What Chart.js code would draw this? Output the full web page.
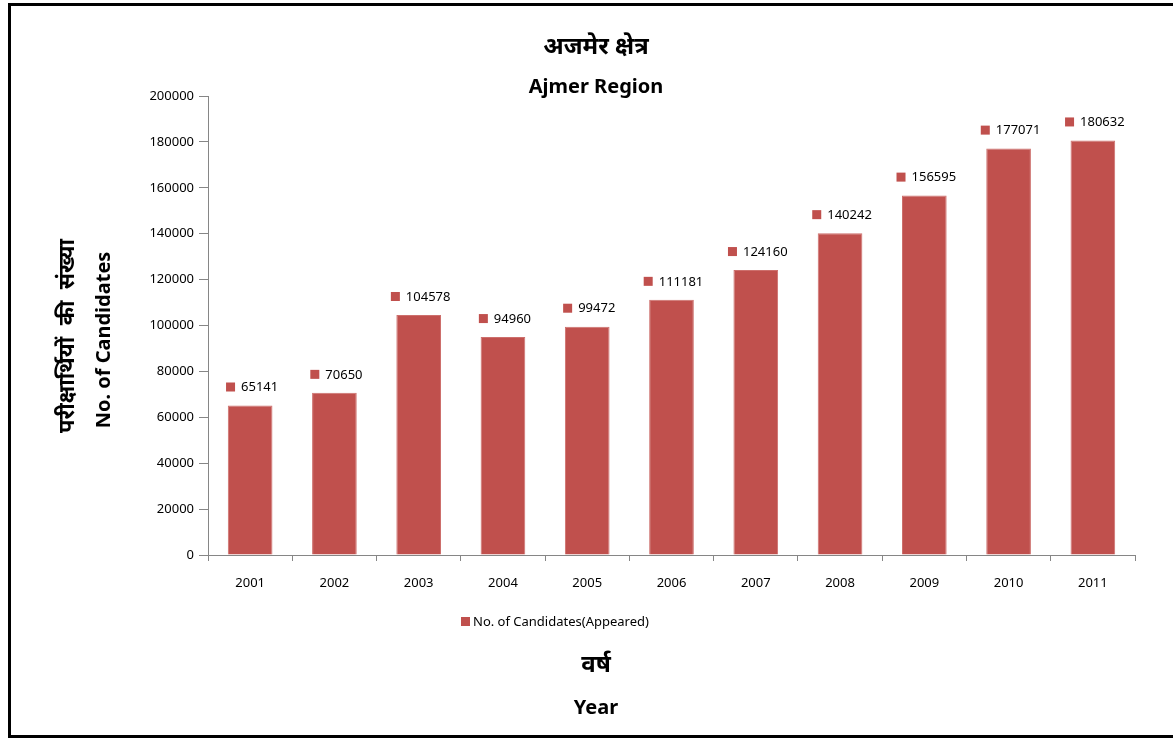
<!DOCTYPE html>
<html>
<head>
<meta charset="utf-8">
<title>Ajmer Region</title>
<script src="https://cdn.jsdelivr.net/npm/chart.js@4.4.1/dist/chart.umd.min.js"></script>
<style>
    html, body { margin: 0; padding: 0; background: #ffffff; overflow: hidden; }
    #frame {
        position: absolute;
        left: 8px;
        top: 3px;
        width: 1200px;
        height: 729px;
        border: 3px solid #000000;
    }
    #chart { position: absolute; left: 0; top: 0; }
</style>
</head>
<body>
<div id="frame"></div>
<canvas id="chart" width="1173" height="738"></canvas>
<script>
// Chart data
const years = ["2001", "2002", "2003", "2004", "2005", "2006", "2007", "2008", "2009", "2010", "2011"];
const candidates = [65141, 70650, 104578, 94960, 99472, 111181, 124160, 140242, 156595, 177071, 180632];
const yTicks = [0, 20000, 40000, 60000, 80000, 100000, 120000, 140000, 160000, 180000, 200000];

const seriesLabel = "No. of Candidates(Appeared)";
const titleHindi = "अजमेर क्षेत्र";
const titleEnglish = "Ajmer Region";
const yTitleHindi = "परीक्षार्थियों  की  संख्या";
const yTitleEnglish = "No. of Candidates";
const xTitleHindi = "वर्ष";
const xTitleEnglish = "Year";

const barColor = "#C0504D";
const axisColor = "#868686";
const latinFont = "'Noto Sans', 'DejaVu Sans', sans-serif";
const hindiFont = "'Noto Sans Devanagari', 'Lohit Devanagari', 'Noto Sans', sans-serif";

// Value labels: small square marker followed by the number, above each bar
const valueLabels = {
    id: "valueLabels",
    afterDatasetsDraw(chart) {
        const ctx = chart.ctx;
        const meta = chart.getDatasetMeta(0);
        const values = chart.data.datasets[0].data;
        ctx.save();
        ctx.font = "13px " + latinFont;
        ctx.textBaseline = "middle";
        ctx.textAlign = "left";
        meta.data.forEach((bar, i) => {
            const text = String(values[i]);
            const tw = ctx.measureText(text).width;
            const groupW = 9 + 6 + tw;
            const left = bar.x + 2 - groupW / 2;
            const cy = bar.y - 18;
            ctx.fillStyle = barColor;
            ctx.fillRect(left, cy - 5, 9, 9);
            ctx.fillStyle = "#000000";
            ctx.fillText(text, left + 15, cy);
        });
        ctx.restore();
    }
};

// Titles, axis titles and legend
const chartTexts = {
    id: "chartTexts",
    afterDraw(chart) {
        const ctx = chart.ctx;
        const cx = 596;
        ctx.save();
        ctx.fillStyle = "#000000";
        ctx.textAlign = "center";
        ctx.textBaseline = "middle";

        ctx.font = "bold 24px " + hindiFont;
        ctx.fillText(titleHindi, cx, 50);
        ctx.font = "bold 20px " + latinFont;
        ctx.fillText(titleEnglish, cx, 87);

        ctx.font = "bold 24px " + hindiFont;
        ctx.fillText(xTitleHindi, cx, 668);
        ctx.font = "bold 20px " + latinFont;
        ctx.fillText(xTitleEnglish, cx, 708);

        ctx.save();
        ctx.translate(70, 336);
        ctx.rotate(-Math.PI / 2);
        ctx.font = "bold 22px " + hindiFont;
        ctx.fillText(yTitleHindi, 0, 0);
        ctx.restore();
        ctx.save();
        ctx.translate(104, 340);
        ctx.rotate(-Math.PI / 2);
        ctx.font = "bold 20px " + latinFont;
        ctx.fillText(yTitleEnglish, 0, 0);
        ctx.restore();

        // legend
        ctx.font = "13px " + latinFont;
        ctx.textAlign = "left";
        ctx.fillStyle = barColor;
        ctx.fillRect(461, 617, 9, 9);
        ctx.fillStyle = "#000000";
        ctx.fillText(seriesLabel, 473, 622);
        ctx.restore();
    }
};

const ctx = document.getElementById("chart").getContext("2d");
new Chart(ctx, {
    type: "bar",
    data: {
        labels: years,
        datasets: [{
            label: seriesLabel,
            data: candidates,
            backgroundColor: barColor,
            borderColor: "#CD6F6C",
            borderWidth: 1,
            barPercentage: 0.53,
            categoryPercentage: 1
        }]
    },
    options: {
        responsive: false,
        animation: false,
        layout: {
            padding: { left: 148, right: 38, top: 96, bottom: 143 }
        },
        plugins: {
            legend: { display: false },
            title: { display: false },
            tooltip: { enabled: false }
        },
        scales: {
            x: {
                afterFit: scale => { scale.height = 40; },
                grid: {
                    display: true,
                    drawOnChartArea: false,
                    offset: true,
                    tickLength: 6,
                    color: axisColor
                },
                border: { color: axisColor, width: 1 },
                ticks: {
                    color: "#000000",
                    padding: 14,
                    font: { family: latinFont, size: 13 }
                }
            },
            y: {
                min: 0,
                max: 200000,
                afterFit: scale => { scale.width = 60; },
                afterBuildTicks: scale => {
                    scale.ticks = yTicks.map(v => ({ value: v }));
                },
                grid: {
                    display: true,
                    drawOnChartArea: false,
                    tickLength: 9,
                    color: axisColor
                },
                border: { color: axisColor, width: 1 },
                ticks: {
                    color: "#000000",
                    padding: 5,
                    font: { family: latinFont, size: 13 },
                    callback: v => String(v)
                }
            }
        }
    },
    plugins: [valueLabels, chartTexts]
});
</script>
</body>
</html>
